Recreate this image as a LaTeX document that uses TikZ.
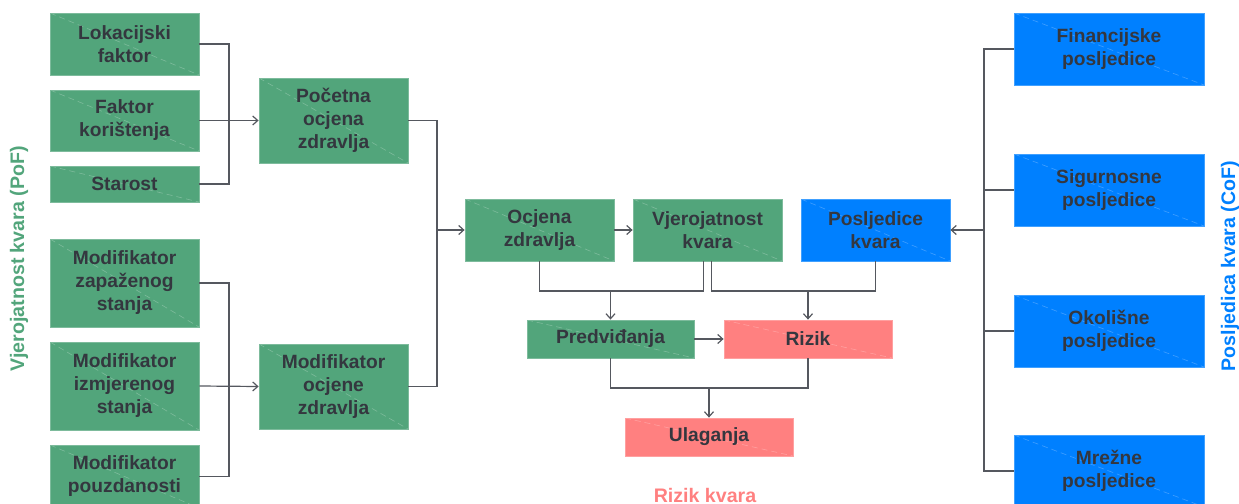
\documentclass[tikz,border=0pt]{standalone}
\usepackage{fontspec}
\setmainfont{Liberation Sans}
\usepackage{tikz}
\usetikzlibrary{arrows.meta}
\definecolor{boxgreen}{RGB}{82,165,123}
\definecolor{boxblue}{RGB}{0,128,255}
\definecolor{boxpink}{RGB}{255,128,128}
\definecolor{txtdark}{RGB}{52,55,63}
\definecolor{linegray}{RGB}{85,88,95}
\tikzset{>={Straight Barb[length=2.5pt,width=4.5pt]}}
\tikzset{%
    block/.style={%
        rectangle, inner sep=1pt, align=center, text=txtdark,
        font=\fontsize{9.6}{11.5}\selectfont\bfseries,
        path picture={\draw[white,opacity=.25,densely dashed,line width=.3pt]
            (path picture bounding box.north west) -- (path picture bounding box.south east);}
    },
    gbox/.style={block, fill=boxgreen, draw=boxgreen!75!white, line width=.4pt},
    bbox/.style={block, fill=boxblue, draw=boxblue!75!white, line width=.4pt},
    pbox/.style={block, fill=boxpink, draw=boxpink!75!white, line width=.4pt},
    conn/.style={draw=linegray, line width=.6pt},
    sidelabel/.style={font=\fontsize{9.8}{11}\selectfont\bfseries, inner sep=0pt}
}

\begin{document}
\begin{tikzpicture}[x=0.5pt,y=-0.5pt]
\useasboundingbox (0,0) rectangle (1239,504);
% PoF ulazi
\node[gbox,minimum width=74.5pt,minimum height=31pt]   (lok)  at (124.5,44)    {Lokacijski\\faktor};
\node[gbox,minimum width=74.5pt,minimum height=30.5pt] (fak)  at (124.5,120.5) {Faktor\\korištenja};
\node[gbox,minimum width=74.5pt,minimum height=18pt]   (star) at (124.5,184)   {Starost};
\node[gbox,minimum width=74.5pt,minimum height=44pt]   (mzap) at (124.5,283)   {Modifikator\\zapaženog\\stanja};
\node[gbox,minimum width=74.5pt,minimum height=44pt]   (mizm) at (124.5,386)   {Modifikator\\izmjerenog\\stanja};
\node[gbox,minimum width=74.5pt,minimum height=31.5pt] (mpou) at (124.5,476.5) {Modifikator\\pouzdanosti};
\node[gbox,minimum width=74.5pt,minimum height=42.5pt] (poc)  at (333.5,120.5) {Početna\\ocjena\\zdravlja};
\node[gbox,minimum width=74.5pt,minimum height=42.5pt] (moc)  at (333.5,386.5) {Modifikator\\ocjene\\zdravlja};
% sredina
\node[gbox,minimum width=74.5pt,minimum height=31pt] (ocj) at (539.5,230) {Ocjena\\zdravlja};
\node[gbox,minimum width=74.5pt,minimum height=31pt] (vje) at (707.5,230) {Vjerojatnost\\kvara};
\node[bbox,minimum width=74.5pt,minimum height=31pt] (pos) at (875.5,230) {Posljedice\\kvara};
\node[gbox,minimum width=83.5pt,minimum height=19pt] (pred) at (610.5,339) {Predviđanja};
\node[pbox,minimum width=84pt,minimum height=19pt]   (riz)  at (808,339)   {Rizik};
\node[pbox,minimum width=84pt,minimum height=19pt]   (ula)  at (709,437)   {Ulaganja};
% CoF ulazi
\node[bbox,minimum width=95pt,minimum height=36pt] (fin) at (1109,49)  {Financijske\\posljedice};
\node[bbox,minimum width=95pt,minimum height=36pt] (sig) at (1109,190) {Sigurnosne\\posljedice};
\node[bbox,minimum width=95pt,minimum height=36pt] (oko) at (1109,331) {Okolišne\\posljedice};
\node[bbox,minimum width=95pt,minimum height=36pt] (mre) at (1109,471) {Mrežne\\posljedice};
% oznake
\node[sidelabel,text=boxgreen,rotate=90] (pof) at (19,259)  {Vjerojatnost kvara (PoF)};
\node[sidelabel,text=boxblue,rotate=90]  (cof) at (1230,266) {Posljedica kvara (CoF)};
\node[sidelabel,text=boxpink,anchor=base] (rkv) at (705,502) {Rizik kvara};
% spojevi
\coordinate (jA) at (229,120.5);
\coordinate (jB) at (229,386);
\coordinate (jC) at (437,230);
\coordinate (jD) at (610.5,291);
\coordinate (jE) at (808,291);
\coordinate (jF) at (709,388);
\coordinate (jG) at (984,230);
\draw[conn] (lok.east) -| (jA) |- (star.east);
\draw[conn,->] (fak.east) -- (poc.west);
\draw[conn] (mzap.east) -| (jB) |- (mpou.east);
\draw[conn,->] (mizm.east) -- (moc.west);
\draw[conn] (poc.east) -| (jC) |- (moc.east);
\draw[conn,->] (jC) -- (ocj.west);
\draw[conn,->] (ocj.east) -- (vje.west);
\draw[conn] (ocj.south) |- (jD) -| ([xshift=-2pt]vje.south);
\draw[conn,->] (jD) -- (pred.north);
\draw[conn] ([xshift=2pt]vje.south) |- (jE) -| (pos.south);
\draw[conn,->] (jE) -- (riz.north);
\draw[conn,->] (pred.east) -- (riz.west);
\draw[conn] (pred.south) |- (jF) -| (riz.south);
\draw[conn,->] (jF) -- (ula.north);
\draw[conn] (fin.west) -| (jG) |- (mre.west);
\draw[conn] (sig.west) -- (sig.west -| jG);
\draw[conn] (oko.west) -- (oko.west -| jG);
\draw[conn,->] (jG) -- (pos.east);
\end{tikzpicture}
\end{document}
